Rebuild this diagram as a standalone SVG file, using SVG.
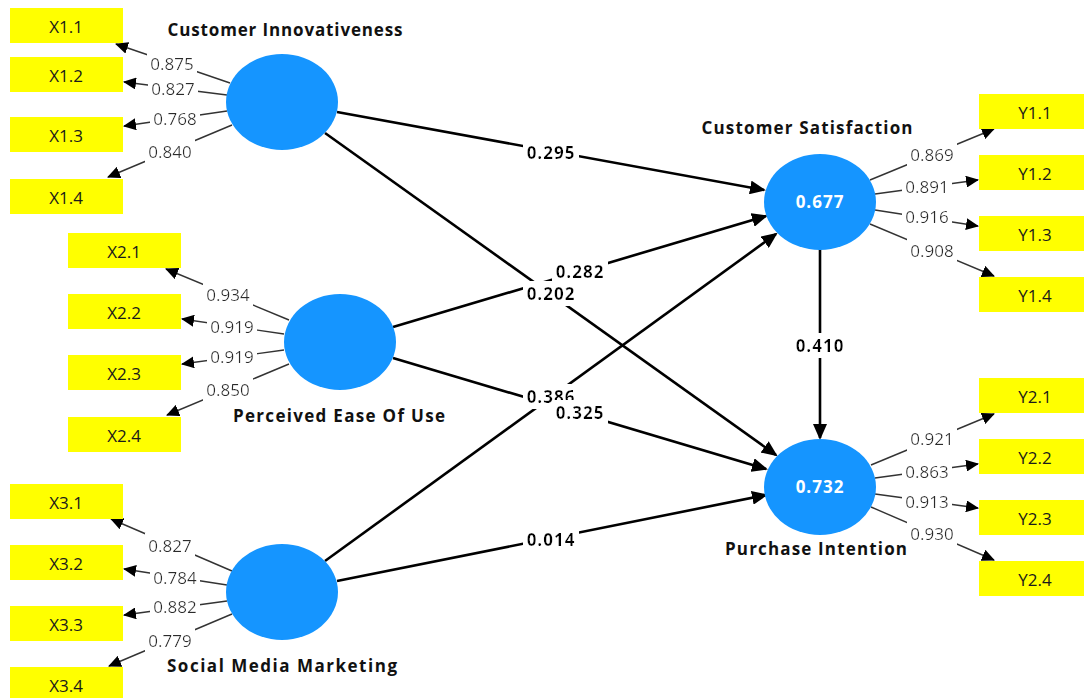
<svg xmlns="http://www.w3.org/2000/svg" width="1084" height="698" viewBox="0 0 1084 698">
  <style>
    .ind rect { fill: #ffff00; }
    .ind text { font-family: "Open Sans", "Noto Sans", sans-serif; font-size: 17px; fill: #1a1a1a; text-anchor: middle; }
    .lv ellipse { fill: #1595ff; }
    .title { font-family: "Open Sans", "Noto Sans", sans-serif; font-size: 17px; font-weight: bold; fill: #111; text-anchor: middle; }
    .r2 { font-family: "Open Sans", "Noto Sans", sans-serif; font-size: 17px; font-weight: bold; fill: #fff; text-anchor: middle; letter-spacing: 1px; }
    .load { stroke: #333; stroke-width: 1.4; fill: none; marker-end: url(#ah-s); }
    .path { stroke: #000; stroke-width: 2.6; fill: none; marker-end: url(#ah-l); }
    .ll { font-family: "Open Sans", "Noto Sans", sans-serif; font-size: 17px; fill: #2a2a2a; text-anchor: middle; filter: url(#bg); }
    .pl { font-family: "Open Sans", "Noto Sans", sans-serif; font-size: 17px; font-weight: bold; fill: #000; text-anchor: middle; letter-spacing: 1px; filter: url(#bg); }
  </style>
  <defs>
    <marker id="ah-s" markerUnits="userSpaceOnUse" markerWidth="14" markerHeight="12" refX="12" refY="6" orient="auto">
      <path d="M0,0 L13,6 L0,12 z" fill="#000"/>
    </marker>
    <marker id="ah-l" markerUnits="userSpaceOnUse" markerWidth="17" markerHeight="14" refX="14" refY="7" orient="auto">
      <path d="M0,0 L16,7 L0,14 z" fill="#000"/>
    </marker>
    <!-- white box behind a label, sized to the text bounds -->
    <filter id="bg" x="-0.06" y="-0.02" width="1.12" height="1.04">
      <feFlood flood-color="#fff"/>
      <feComposite in="SourceGraphic" operator="over"/>
    </filter>
  </defs>
  <rect width="1084" height="698" fill="#fff"/>

  <g id="connectors">
    <!-- outer loadings -->
    <line class="load" x1="230" y1="83" x2="116" y2="44"/>
    <line class="load" x1="227" y1="95" x2="124" y2="82"/>
    <line class="load" x1="227" y1="111" x2="124" y2="126"/>
    <line class="load" x1="232" y1="125" x2="108" y2="177"/>

    <line class="load" x1="289" y1="320" x2="166" y2="269"/>
    <line class="load" x1="284" y1="334" x2="182" y2="319"/>
    <line class="load" x1="284" y1="350" x2="182" y2="364"/>
    <line class="load" x1="289" y1="364" x2="167" y2="415"/>

    <line class="load" x1="232" y1="571" x2="111" y2="519"/>
    <line class="load" x1="227" y1="585" x2="124" y2="569"/>
    <line class="load" x1="227" y1="601" x2="124" y2="615"/>
    <line class="load" x1="232" y1="614" x2="109" y2="666"/>

    <line class="load" x1="870" y1="180" x2="994" y2="129"/>
    <line class="load" x1="875" y1="194" x2="978" y2="180"/>
    <line class="load" x1="875" y1="210" x2="978" y2="226"/>
    <line class="load" x1="870" y1="224" x2="994" y2="276"/>

    <line class="load" x1="871" y1="465" x2="994" y2="414"/>
    <line class="load" x1="875" y1="478" x2="978" y2="464"/>
    <line class="load" x1="875" y1="494" x2="978" y2="508"/>
    <line class="load" x1="871" y1="507" x2="994" y2="560"/>

    <!-- inner model paths -->
    <line class="path" x1="337" y1="112" x2="764" y2="190"/>
    <line class="path" x1="325" y1="133" x2="776" y2="455"/>
    <line class="path" x1="393" y1="327" x2="766" y2="216"/>
    <line class="path" x1="393" y1="358" x2="766" y2="469"/>
    <line class="path" x1="325" y1="561" x2="776" y2="234"/>
    <line class="path" x1="337" y1="581" x2="766" y2="495"/>
    <line class="path" x1="820" y1="249" x2="820" y2="438"/>
  </g>

  <g id="loading-labels">
    <text class="ll" x="172" y="70">0.875</text>
    <text class="ll" x="173" y="95">0.827</text>
    <text class="ll" x="175" y="125">0.768</text>
    <text class="ll" x="170" y="158">0.840</text>

    <text class="ll" x="228" y="301">0.934</text>
    <text class="ll" x="232" y="333">0.919</text>
    <text class="ll" x="232" y="363">0.919</text>
    <text class="ll" x="228" y="396">0.850</text>

    <text class="ll" x="170" y="552">0.827</text>
    <text class="ll" x="175" y="584">0.784</text>
    <text class="ll" x="175" y="613">0.882</text>
    <text class="ll" x="170" y="647">0.779</text>

    <text class="ll" x="932" y="161">0.869</text>
    <text class="ll" x="927" y="193">0.891</text>
    <text class="ll" x="927" y="223">0.916</text>
    <text class="ll" x="932" y="257">0.908</text>

    <text class="ll" x="932" y="445">0.921</text>
    <text class="ll" x="927" y="478">0.863</text>
    <text class="ll" x="927" y="508">0.913</text>
    <text class="ll" x="932" y="540">0.930</text>
  </g>

  <g id="path-labels">
    <text class="pl" x="551" y="159">0.295</text>
    <text class="pl" x="580" y="278">0.282</text>
    <text class="pl" x="551" y="300">0.202</text>
    <text class="pl" x="551" y="403">0.386</text>
    <text class="pl" x="580" y="419">0.325</text>
    <text class="pl" x="551" y="546">0.014</text>
    <text class="pl" x="820" y="352">0.410</text>
  </g>

  <!-- latent variables -->
  <g id="customer-innovativeness" class="lv">
    <ellipse cx="282" cy="102" rx="56" ry="48"/>
    <text class="title" x="285" y="36" textLength="235" lengthAdjust="spacing">Customer Innovativeness</text>
  </g>
  <g id="perceived-ease-of-use" class="lv">
    <ellipse cx="340" cy="342" rx="56" ry="48"/>
    <text class="title" x="339" y="422" textLength="212" lengthAdjust="spacing">Perceived Ease Of Use</text>
  </g>
  <g id="social-media-marketing" class="lv">
    <ellipse cx="282" cy="592" rx="56" ry="48"/>
    <text class="title" x="282" y="672" textLength="230" lengthAdjust="spacing">Social Media Marketing</text>
  </g>
  <g id="customer-satisfaction" class="lv">
    <ellipse cx="820" cy="202" rx="56" ry="48"/>
    <text class="title" x="807" y="134" textLength="211" lengthAdjust="spacing">Customer Satisfaction</text>
    <text class="r2" x="820" y="208">0.677</text>
  </g>
  <g id="purchase-intention" class="lv">
    <ellipse cx="820" cy="487" rx="56" ry="48"/>
    <text class="title" x="816" y="555" textLength="182" lengthAdjust="spacing">Purchase Intention</text>
    <text class="r2" x="820" y="493">0.732</text>
  </g>

  <!-- indicators -->
  <g id="X1.1" class="ind"><rect x="10" y="8" width="113" height="35"/><text x="66" y="33">X1.1</text></g>
  <g id="X1.2" class="ind"><rect x="10" y="57" width="113" height="35"/><text x="66" y="82">X1.2</text></g>
  <g id="X1.3" class="ind"><rect x="10" y="117" width="113" height="35"/><text x="66" y="142">X1.3</text></g>
  <g id="X1.4" class="ind"><rect x="10" y="179" width="113" height="35"/><text x="66" y="204">X1.4</text></g>

  <g id="X2.1" class="ind"><rect x="68" y="233" width="113" height="35"/><text x="124" y="258">X2.1</text></g>
  <g id="X2.2" class="ind"><rect x="68" y="294" width="113" height="35"/><text x="124" y="319">X2.2</text></g>
  <g id="X2.3" class="ind"><rect x="68" y="355" width="113" height="35"/><text x="124" y="380">X2.3</text></g>
  <g id="X2.4" class="ind"><rect x="68" y="417" width="113" height="35"/><text x="124" y="442">X2.4</text></g>

  <g id="X3.1" class="ind"><rect x="10" y="484" width="113" height="35"/><text x="66" y="509">X3.1</text></g>
  <g id="X3.2" class="ind"><rect x="10" y="545" width="113" height="35"/><text x="66" y="570">X3.2</text></g>
  <g id="X3.3" class="ind"><rect x="10" y="606" width="113" height="35"/><text x="66" y="631">X3.3</text></g>
  <g id="X3.4" class="ind"><rect x="10" y="667" width="113" height="35"/><text x="66" y="692">X3.4</text></g>

  <g id="Y1.1" class="ind"><rect x="979" y="94" width="113" height="35"/><text x="1035" y="119">Y1.1</text></g>
  <g id="Y1.2" class="ind"><rect x="979" y="155" width="113" height="35"/><text x="1035" y="180">Y1.2</text></g>
  <g id="Y1.3" class="ind"><rect x="979" y="216" width="113" height="35"/><text x="1035" y="241">Y1.3</text></g>
  <g id="Y1.4" class="ind"><rect x="979" y="277" width="113" height="35"/><text x="1035" y="302">Y1.4</text></g>

  <g id="Y2.1" class="ind"><rect x="979" y="378" width="113" height="35"/><text x="1035" y="403">Y2.1</text></g>
  <g id="Y2.2" class="ind"><rect x="979" y="439" width="113" height="35"/><text x="1035" y="464">Y2.2</text></g>
  <g id="Y2.3" class="ind"><rect x="979" y="500" width="113" height="35"/><text x="1035" y="525">Y2.3</text></g>
  <g id="Y2.4" class="ind"><rect x="979" y="561" width="113" height="35"/><text x="1035" y="586">Y2.4</text></g>
</svg>
